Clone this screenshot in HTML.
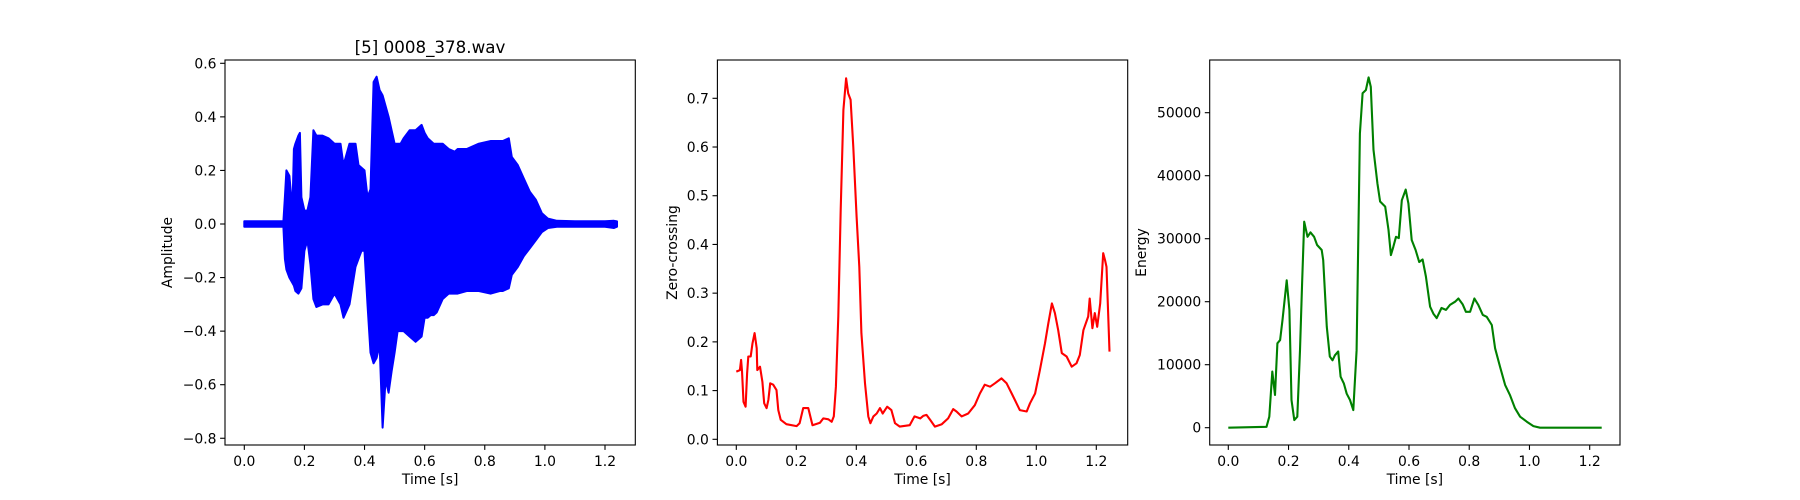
<!DOCTYPE html>
<html><head><meta charset="utf-8">
<style>
html,body{margin:0;padding:0;background:#fff;}
svg{display:block;font-family:"DejaVu Sans","Liberation Sans",sans-serif;}
</style></head>
<body>
<svg id="fig" width="1800" height="500" viewBox="0 0 1800 500" xmlns="http://www.w3.org/2000/svg">
<rect width="1800" height="500" fill="#fff"/>
<text x="430" y="53" font-size="16.7" text-anchor="middle">[5] 0008_378.wav</text>
<g id="g1"></g>
<g id="g2"></g>
<g id="g3"></g>
</svg>
<script>
// ---- Amplitude waveform envelope data ----
const ampTimes = [0,0.13,0.135,0.14,0.15,0.16,0.165,0.17,0.18,0.185,0.19,0.2,0.21,0.22,0.23,0.24,0.26,0.28,0.3,0.32,0.33,0.35,0.37,0.38,0.39,0.4,0.41,0.42,0.43,0.44,0.45,0.46,0.47,0.48,0.49,0.5,0.51,0.52,0.53,0.55,0.57,0.59,0.6,0.61,0.62,0.63,0.64,0.66,0.68,0.7,0.71,0.74,0.78,0.82,0.85,0.86,0.88,0.89,0.91,0.93,0.95,0.97,0.99,1.01,1.04,1.1,1.2,1.23,1.24];
const ampUpper = [0.01,0.01,0.1,0.2,0.18,0.05,0.28,0.3,0.33,0.34,0.1,0.05,0.05,0.1,0.35,0.33,0.33,0.32,0.3,0.3,0.22,0.3,0.3,0.22,0.21,0.2,0.1,0.13,0.53,0.55,0.5,0.48,0.44,0.4,0.35,0.3,0.3,0.3,0.32,0.35,0.35,0.37,0.34,0.32,0.31,0.3,0.3,0.3,0.28,0.27,0.28,0.28,0.3,0.31,0.31,0.31,0.32,0.25,0.22,0.17,0.12,0.09,0.04,0.02,0.012,0.01,0.01,0.012,0.01];
const ampLower = [-0.01,-0.01,-0.13,-0.17,-0.2,-0.22,-0.23,-0.25,-0.26,-0.25,-0.24,-0.1,-0.06,-0.15,-0.28,-0.31,-0.3,-0.3,-0.26,-0.3,-0.35,-0.3,-0.16,-0.13,-0.1,-0.1,-0.3,-0.48,-0.52,-0.5,-0.45,-0.76,-0.58,-0.63,-0.55,-0.48,-0.4,-0.4,-0.4,-0.42,-0.44,-0.42,-0.35,-0.35,-0.34,-0.34,-0.33,-0.28,-0.26,-0.26,-0.26,-0.25,-0.25,-0.26,-0.25,-0.25,-0.24,-0.19,-0.16,-0.12,-0.09,-0.06,-0.03,-0.015,-0.01,-0.01,-0.01,-0.015,-0.01];
const ampXTicks = [0,0.2,0.4,0.6,0.8,1.0,1.2];
const ampXTickLabels = ["0.0","0.2","0.4","0.6","0.8","1.0","1.2"];
const ampYTicks = [-0.8,-0.6,-0.4,-0.2,0,0.2,0.4,0.6];
const ampYTickLabels = ["\u22120.8","\u22120.6","\u22120.4","\u22120.2","0.0","0.2","0.4","0.6"];

// ---- Zero-crossing data ----
const zcrTimes = [0,0.012,0.016,0.019,0.024,0.031,0.036,0.04,0.048,0.054,0.061,0.068,0.07,0.079,0.087,0.093,0.101,0.107,0.113,0.123,0.134,0.14,0.148,0.167,0.201,0.211,0.223,0.24,0.254,0.279,0.29,0.307,0.318,0.325,0.332,0.34,0.348,0.357,0.366,0.373,0.381,0.39,0.401,0.41,0.417,0.429,0.44,0.447,0.457,0.468,0.479,0.488,0.503,0.517,0.529,0.545,0.578,0.594,0.613,0.623,0.634,0.646,0.662,0.685,0.706,0.723,0.734,0.751,0.773,0.795,0.812,0.828,0.846,0.862,0.884,0.901,0.918,0.934,0.945,0.968,0.979,0.996,1.012,1.029,1.04,1.052,1.062,1.073,1.085,1.101,1.118,1.134,1.145,1.157,1.173,1.178,1.187,1.195,1.203,1.213,1.223,1.229,1.234,1.244];
const zcrValues = [0.139,0.142,0.163,0.14,0.077,0.067,0.135,0.17,0.17,0.197,0.218,0.187,0.142,0.149,0.118,0.074,0.064,0.081,0.115,0.112,0.101,0.06,0.04,0.031,0.027,0.033,0.064,0.064,0.029,0.034,0.043,0.041,0.036,0.047,0.108,0.252,0.471,0.676,0.741,0.71,0.697,0.6,0.457,0.354,0.218,0.115,0.047,0.033,0.047,0.053,0.064,0.053,0.067,0.06,0.033,0.026,0.029,0.047,0.043,0.048,0.05,0.04,0.026,0.031,0.043,0.062,0.057,0.047,0.053,0.07,0.094,0.112,0.108,0.115,0.125,0.115,0.094,0.074,0.06,0.057,0.074,0.094,0.142,0.197,0.238,0.279,0.259,0.224,0.177,0.17,0.149,0.156,0.173,0.224,0.252,0.289,0.228,0.259,0.231,0.279,0.382,0.368,0.354,0.18];
const zcrXTicks = [0,0.2,0.4,0.6,0.8,1.0,1.2];
const zcrXTickLabels = ["0.0","0.2","0.4","0.6","0.8","1.0","1.2"];
const zcrYTicks = [0,0.1,0.2,0.3,0.4,0.5,0.6,0.7];
const zcrYTickLabels = ["0.0","0.1","0.2","0.3","0.4","0.5","0.6","0.7"];

// ---- Energy data ----
const enTimes = [0,0.127,0.136,0.146,0.155,0.163,0.172,0.18,0.194,0.203,0.21,0.219,0.229,0.238,0.245,0.252,0.263,0.273,0.285,0.295,0.31,0.315,0.327,0.337,0.346,0.354,0.365,0.373,0.384,0.393,0.404,0.415,0.426,0.437,0.446,0.457,0.466,0.473,0.482,0.495,0.504,0.521,0.532,0.54,0.548,0.557,0.566,0.576,0.589,0.598,0.609,0.622,0.634,0.645,0.656,0.67,0.681,0.692,0.708,0.723,0.736,0.753,0.764,0.778,0.789,0.803,0.817,0.83,0.845,0.858,0.875,0.886,0.902,0.919,0.935,0.952,0.969,0.991,1.013,1.035,1.24];
const enValues = [0,150,1750,8900,5200,13400,13900,17100,23400,18700,4400,1200,1750,12300,22900,32700,30300,31000,30300,29000,28200,26600,16000,11300,10700,11500,12100,8100,7000,5400,4400,2800,12300,46700,53100,53600,55600,54100,44100,38800,35900,35100,31400,27400,28700,30300,30100,36100,37800,35600,29800,28200,26300,26700,24000,19200,18100,17400,19000,18700,19500,20000,20500,19600,18400,18400,20500,19500,17900,17600,16300,12600,9700,6800,5200,3100,1750,950,260,0,0];
const enXTicks = [0,0.2,0.4,0.6,0.8,1.0,1.2];
const enXTickLabels = ["0.0","0.2","0.4","0.6","0.8","1.0","1.2"];
const enYTicks = [0,10000,20000,30000,40000,50000];
const enYTickLabels = ["0","10000","20000","30000","40000","50000"];

const NS = "http://www.w3.org/2000/svg";
function mk(parent, tag, attrs){
  const e = document.createElementNS(NS, tag);
  for (const k in attrs) e.setAttribute(k, attrs[k]);
  parent.appendChild(e);
  return e;
}
function lin(d0,d1,r0,r1){ return v => r0 + (v-d0)*(r1-r0)/(d1-d0); }

function axes(g, box, sx, sy, xt, xl, yt, yl, ylabel, ylabelX){
  const [L,T,R,B] = box;
  xt.forEach((v,i)=>{
    const x = sx(v);
    const t = mk(g,'line',{x1:x,x2:x,y1:B,y2:B+4.9,stroke:'#000','stroke-width':1.1});
    
    
    const tx = mk(g,'text',{x:x,y:B+21,'font-size':13.9,'text-anchor':'middle'});
    tx.textContent = xl[i];
    
    
  });
  yt.forEach((v,i)=>{
    const y = sy(v);
    const t = mk(g,'line',{x1:L-4.9,x2:L,y1:y,y2:y,stroke:'#000','stroke-width':1.1});
    
    
    const tx = mk(g,'text',{x:L-8.5,y:y+5,'font-size':13.9,'text-anchor':'end'});
    tx.textContent = yl[i];
    
    
  });
  const xlab = mk(g,'text',{x:(L+R)/2,y:B+39,'font-size':13.9,'text-anchor':'middle'});
  xlab.textContent = 'Time [s]';
  
  
  const ylab = mk(g,'text',{x:ylabelX,y:(T+B)/2,'font-size':13.9,'text-anchor':'middle',transform:`rotate(-90 ${ylabelX} ${(T+B)/2})`});
  ylab.textContent = ylabel;
  
  
}
function frame(g, box){
  const [L,T,R,B] = box;
  const f = mk(g,'rect',{x:L,y:T,width:R-L,height:B-T,fill:'none',stroke:'#000','stroke-width':1.1});
  
  
}

// Chart 1
(function(){
  const g = document.getElementById('g1');
  const box = [225,60,635.3,445];
  const sx = lin(0,1.2,244.3,605);
  const sy = lin(0,0.6,224,63.3);
  let pts = ampTimes.map((t,i)=>sx(t).toFixed(1)+','+sy(ampUpper[i]).toFixed(1));
  for (let i=ampTimes.length-1;i>=0;i--) pts.push(sx(ampTimes[i]).toFixed(1)+','+sy(ampLower[i]).toFixed(1));
  const p = mk(g,'polygon',{points:pts.join(' '),fill:'#0000ff',stroke:'#0000ff','stroke-width':2,'stroke-linejoin':'round'});
  
  
  frame(g,box);
  axes(g,box,sx,sy,ampXTicks,ampXTickLabels,ampYTicks,ampYTickLabels,'Amplitude',172);
})();

// Chart 2
(function(){
  const g = document.getElementById('g2');
  const box = [717.4,60,1127.7,445];
  const sx = lin(0,1.2,736.3,1096.3);
  const sy = lin(0,0.7,439.3,98.3);
  const d = zcrTimes.map((t,i)=>(i?'L':'M')+sx(t).toFixed(1)+','+sy(zcrValues[i]).toFixed(1)).join(' ');
  const p = mk(g,'path',{d:d,fill:'none',stroke:'#ff0000','stroke-width':2.1,'stroke-linejoin':'round'});
  
  
  frame(g,box);
  axes(g,box,sx,sy,zcrXTicks,zcrXTickLabels,zcrYTicks,zcrYTickLabels,'Zero-crossing',677);
})();

// Chart 3
(function(){
  const g = document.getElementById('g3');
  const box = [1209.7,60,1620,445];
  const sx = lin(0,1.2,1228.3,1589.7);
  const sy = lin(0,50000,427.7,112.7);
  const d = enTimes.map((t,i)=>(i?'L':'M')+sx(t).toFixed(1)+','+sy(enValues[i]).toFixed(1)).join(' ');
  const p = mk(g,'path',{d:d,fill:'none',stroke:'#008000','stroke-width':2.1,'stroke-linejoin':'round'});
  
  
  frame(g,box);
  axes(g,box,sx,sy,enXTicks,enXTickLabels,enYTicks,enYTickLabels,'Energy',1146);
})();
</script>
</body></html>
